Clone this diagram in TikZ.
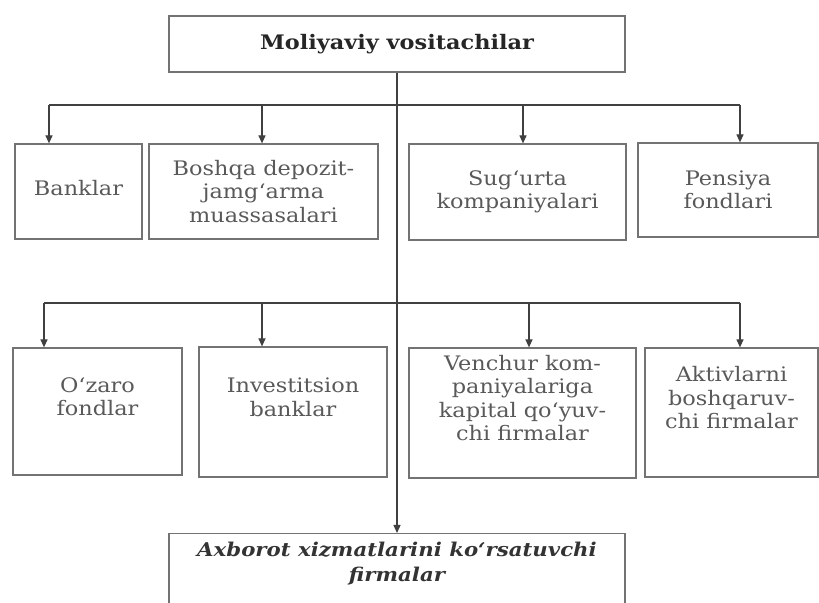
\documentclass[tikz,border=0pt]{standalone}
\usepackage{fontspec}
\setmainfont[FakeStretch=1.12]{DejaVu Serif}
\usetikzlibrary{arrows.meta}
% raise a block of lines inside its frame
\newcommand\liftup[1]{\raisebox{6pt}[\height][\depth]{\begin{tabular}{@{}c@{}}#1\end{tabular}}}

\begin{document}
\begin{tikzpicture}[x=0.5pt,y=-0.5pt,
    box/.style={draw=black!55, line width=0.6pt, text=black!65, align=center,
      inner sep=0pt, font=\fontsize{10}{11.75}\selectfont},
    link/.style={draw=black!75, line width=0.6pt},
    arr/.style={link, -{Triangle[length=4pt,width=3.5pt]}}]
  \path[use as bounding box, clip] (0,0) rectangle (819,603);

  % head and foot
  \node[box, text=black!85, font=\fontsize{10}{11.75}\selectfont\bfseries,
    minimum width=228pt, minimum height=28pt] (root) at (397,44) {Moliyaviy vositachilar};
  \node[box, text=black!80, font=\fontsize{9.5}{12.5}\selectfont\bfseries\itshape,
    anchor=north, minimum width=228pt, inner ysep=4pt] (info) at (397,533)
    {\parbox[t][43pt][t]{224pt}{\centering Axborot xizmatlarini ko‘rsatuvchi\\firmalar}};

  % first row
  \node[box, minimum width=63.5pt, minimum height=47.5pt] (banks) at (78.5,191.5) {\raisebox{4pt}{Banklar}};
  \node[box, minimum width=114.5pt, minimum height=47.5pt] (deposit) at (263.5,191.5) {Boshqa depozit-\\jamg‘arma\\muassasalari};
  \node[box, minimum width=108.5pt, minimum height=48pt] (insure) at (517.5,192) {Sug‘urta\\kompaniyalari};
  \node[box, minimum width=90pt, minimum height=47pt] (pension) at (728,190) {Pensiya\\fondlari};

  % second row
  \node[box, minimum width=84.5pt, minimum height=63.5pt] (mutual) at (97.5,411.5) {\liftup{O‘zaro\\fondlar}};
  \node[box, minimum width=94pt, minimum height=65pt] (invest) at (293,412) {\liftup{Investitsion\\banklar}};
  \node[box, minimum width=113.5pt, minimum height=65pt] (venture) at (522.5,413) {\liftup{Venchur kom-\\paniyalariga\\kapital qo‘yuv-\\chi firmalar}};
  \node[box, minimum width=86.5pt, minimum height=64.5pt] (asset) at (731.5,412.5) {\liftup{Aktivlarni\\boshqaruv-\\chi firmalar}};

  \draw[arr] (root) -- (info);

  \foreach \x/\n in {49/banks,262/deposit,523/insure,740/pension}{
    \coordinate (up-\n) at (\x,105);
    \draw[arr] (up-\n) -- (up-\n |- \n.north);
  }
  \draw[link] (up-banks) -- (up-pension);

  \foreach \x/\n in {44/mutual,262/invest,529/venture,740/asset}{
    \coordinate (up-\n) at (\x,303);
    \draw[arr] (up-\n) -- (up-\n |- \n.north);
  }
  \draw[link] (up-mutual) -- (up-asset);
\end{tikzpicture}
\end{document}
